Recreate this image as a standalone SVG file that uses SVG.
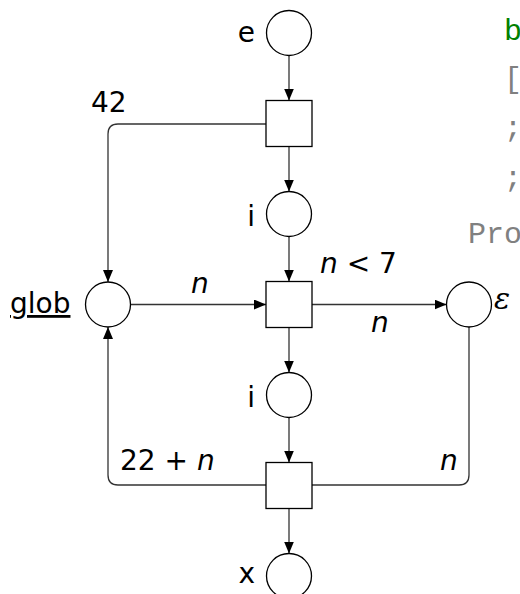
<svg xmlns="http://www.w3.org/2000/svg" width="520" height="594" viewBox="0 0 520 594">
<defs>
<marker id="arr" viewBox="0 0 12 10" refX="12" refY="5" markerWidth="12" markerHeight="10" markerUnits="userSpaceOnUse" orient="auto">
<path d="M0,0 L12,5 L0,10 Z" fill="#000"/>
</marker>
<style>
.pl{fill:#fff;stroke:#000;stroke-width:1.3}
.tr{fill:#fff;stroke:#000;stroke-width:1.3}
.c{fill:none;stroke:#333;stroke-width:1.3}
.lb{font-family:"DejaVu Sans","Liberation Sans",sans-serif;font-size:28px;fill:#000}
.it{font-style:italic}
.code{font-family:"Liberation Mono",monospace;font-size:30px;fill:#808080}
</style>
</defs>
<rect width="520" height="594" fill="#fff"/>
<g id="connectors">
<path class="c" d="M289,55.5 V100.5" marker-end="url(#arr)"/>
<path class="c" d="M289,146.5 V191.5" marker-end="url(#arr)"/>
<path class="c" d="M289,236.5 V281.5" marker-end="url(#arr)"/>
<path class="c" d="M289,327.5 V372.5" marker-end="url(#arr)"/>
<path class="c" d="M289,417.5 V462.5" marker-end="url(#arr)"/>
<path class="c" d="M289,508.5 V553.5" marker-end="url(#arr)"/>
<path class="c" d="M266,124 H118 Q108,124 108,134 V282" marker-end="url(#arr)"/>
<path class="c" d="M130.5,304.5 H266" marker-end="url(#arr)"/>
<path class="c" d="M312,304.5 H446.5" marker-end="url(#arr)"/>
<path class="c" d="M469,327 V475 Q469,485 459,485 H312"/>
<path class="c" d="M266,485 H118 Q108,485 108,475 V327" marker-end="url(#arr)"/>
<text class="lb" x="91" y="112">42</text>
<text class="lb it" x="191" y="293">n</text>
<text class="lb" x="320" y="273"><tspan class="it">n</tspan> &lt; 7</text>
<text class="lb it" x="371" y="332">n</text>
<text class="lb" x="120" y="470">22 + <tspan class="it">n</tspan></text>
<text class="lb it" x="440" y="470">n</text>
</g>
<g id="p_e">
<circle class="pl" cx="289" cy="33" r="22.5"/>
<text class="lb" x="255" y="42" text-anchor="end">e</text>
</g>
<g id="t1"><rect class="tr" x="266" y="100.5" width="46" height="46"/></g>
<g id="p_i1">
<circle class="pl" cx="289" cy="214" r="22.5"/>
<text class="lb" x="255" y="226" text-anchor="end">i</text>
</g>
<g id="t2"><rect class="tr" x="266" y="281.5" width="46" height="46"/></g>
<g id="p_glob">
<circle class="pl" cx="108" cy="304.5" r="22.5"/>
<text class="lb" x="10" y="313" text-decoration="underline">glob</text>
</g>
<g id="p_eps">
<circle class="pl" cx="469" cy="304.5" r="22.5"/>
<text x="494" y="309" font-family="DejaVu Serif,serif" font-style="italic" font-size="30" fill="#000">ε</text>
</g>
<g id="p_i2">
<circle class="pl" cx="289" cy="395" r="22.5"/>
<text class="lb" x="255" y="407" text-anchor="end">i</text>
</g>
<g id="t3"><rect class="tr" x="266" y="462.5" width="46" height="46"/></g>
<g id="p_x">
<circle class="pl" cx="289" cy="576" r="22.5"/>
<text class="lb" x="255" y="583" text-anchor="end">x</text>
</g>
<g id="code">
<text class="code" x="504" y="40" style="fill:#008000">b</text>
<text class="code" x="504" y="88">[</text>
<text class="code" x="504" y="137">;</text>
<text class="code" x="504" y="187">;</text>
<text class="code" x="468" y="243">Pro</text>
</g>
</svg>
